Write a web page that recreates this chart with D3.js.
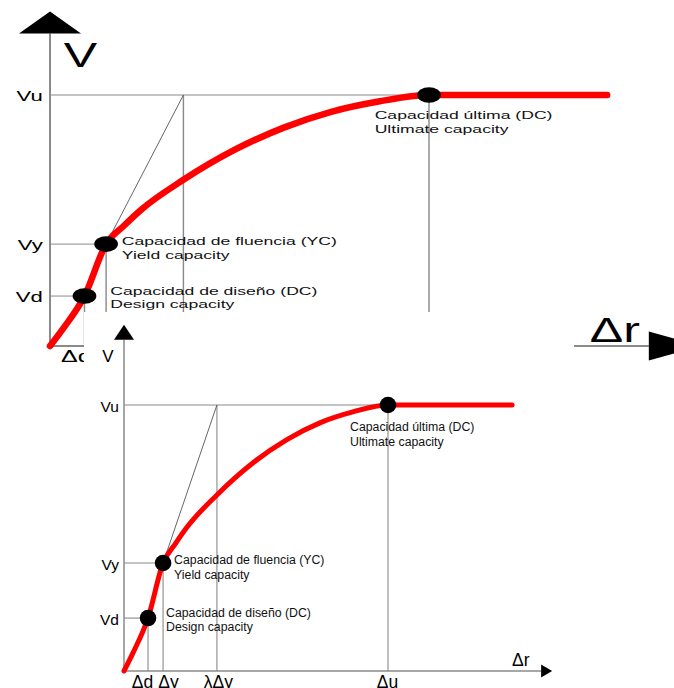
<!DOCTYPE html>
<html>
<head>
<meta charset="utf-8">
<script src="https://cdn.jsdelivr.net/npm/d3@7"></script>
<style>
  html, body { margin: 0; padding: 0; background: #fff; }
  svg { display: block; }
</style>
</head>
<body>
<div id="chart"></div>
<script>
// capacity curve data (units: Δu = 100, Vu = 100)
const deltaLabels = ["Δd", "Δy", "λΔy", "Δu"];
const deltaValues = [9.1, 14.8, 35.2, 100];
const deltaGuideV = [19.9, 40.6, 100, 100];   // height each vertical guide reaches

const vLabels = ["Vd", "Vy", "Vu"];
const vValues = [19.9, 40.6, 100];

const curveDelta = [0, 3.4, 9.1, 14.8, 19.5, 23.9, 35.2, 48.9, 61.7, 74.2, 86.7, 100, 147];
const curveV     = [0, 6.8, 19.9, 40.6, 47.9, 54.1, 66.2, 78.3, 87.0, 93.3, 97.4, 100, 100];

const pointNames   = ["Capacidad de diseño (DC)", "Capacidad de fluencia (YC)", "Capacidad última (DC)"];
const pointNamesEn = ["Design capacity", "Yield capacity", "Ultimate capacity"];
const pointDelta   = [9.1, 14.8, 100];
const pointV       = [19.9, 40.6, 100];

const axisMax = [158, 124.5]; // [Δr, V]

const W = 674, H = 688;
const svg = d3.select("#chart").append("svg")
    .attr("width", W)
    .attr("height", H);
svg.append("rect").attr("width", W).attr("height", H).attr("fill", "#fff");

const FONT = "Arial, 'Liberation Sans', sans-serif";

function drawDiagram(g, cfg) {
    const x = d3.scaleLinear().domain([0, 100]).range(cfg.xRange);
    const y = d3.scaleLinear().domain([0, 100]).range(cfg.yRange);
    const sx = cfg.sx, sy = cfg.sy;
    const grey = "#8a8a8a";
    const x0 = x(0), y0 = y(0);
    const yTop = y(axisMax[1]), xEnd = x(axisMax[0]);
    const sc = `scale(${sx},${sy})`;

    // guides: horizontal to each point
    g.selectAll(".hguide").data(pointV).enter().append("line")
        .attr("x1", x0).attr("x2", (d, i) => x(pointDelta[i]))
        .attr("y1", d => y(d)).attr("y2", d => y(d))
        .attr("stroke", grey).attr("stroke-width", cfg.guideW);

    // guides: vertical from each Δ
    g.selectAll(".vguide").data(deltaValues).enter().append("line")
        .attr("x1", d => x(d)).attr("x2", d => x(d))
        .attr("y1", y0).attr("y2", (d, i) => y(deltaGuideV[i]))
        .attr("stroke", grey).attr("stroke-width", cfg.guideW * sx);

    // secant to λΔy
    g.append("line")
        .attr("x1", x(deltaValues[1])).attr("y1", y(vValues[1]))
        .attr("x2", x(deltaValues[2])).attr("y2", y(vValues[2]))
        .attr("stroke", "#555").attr("stroke-width", 0.9);

    // axes
    g.append("line").attr("x1", x0).attr("x2", x0).attr("y1", y0).attr("y2", yTop)
        .attr("stroke", grey).attr("stroke-width", cfg.axisW);
    g.append("line").attr("x1", x0).attr("x2", xEnd).attr("y1", y0).attr("y2", y0)
        .attr("stroke", grey).attr("stroke-width", cfg.axisW);

    // arrowheads
    const ya = cfg.yArrow, xa = cfg.xArrow;
    g.append("path")
        .attr("d", `M${x0 - ya[0] / 2},${yTop} L${x0 + ya[0] / 2},${yTop} L${x0},${yTop - ya[1]} Z`)
        .attr("fill", "#000");
    g.append("path")
        .attr("d", `M${xEnd},${y0 - xa[0] / 2} L${xEnd},${y0 + xa[0] / 2} L${xEnd + xa[1]},${y0} Z`)
        .attr("fill", "#000");

    // axis names
    g.append("text")
        .attr("transform", `translate(${x0 + cfg.vName[0]},${yTop - ya[1] + cfg.vName[1]}) scale(${sx},1)`)
        .attr("text-anchor", "middle")
        .attr("font-family", FONT).attr("font-size", cfg.vName[2])
        .text("V");
    g.append("text")
        .attr("transform", `translate(${xEnd + cfg.rName[0]},${y0 + cfg.rName[1]}) scale(${sx},1)`)
        .attr("font-family", FONT).attr("font-size", cfg.rName[2])
        .text("Δr");

    // V tick labels
    const yAxis = g.append("g")
        .attr("transform", `translate(${x0},0)`)
        .call(d3.axisLeft(y).tickValues(vValues).tickFormat((d, i) => vLabels[i]).tickSize(0));
    yAxis.select(".domain").remove();
    yAxis.selectAll("text")
        .attr("x", null).attr("dy", null)
        .attr("transform", `translate(${-5 * sx},${6 * sy}) ${sc}`)
        .attr("text-anchor", "end")
        .attr("font-family", FONT).attr("font-size", 15.5).attr("fill", "#000");

    // Δ tick labels (the big copy only shows the first one, clipped)
    const nudge = [-6, 5, 1, -1];
    const xAxis = g.append("g")
        .attr("transform", `translate(0,${y0})`)
        .call(d3.axisBottom(x).tickValues(cfg.allTicks ? deltaValues : deltaValues.slice(0, 1))
            .tickFormat((d, i) => deltaLabels[i]).tickSize(0));
    xAxis.select(".domain").remove();
    xAxis.selectAll("text")
        .attr("y", null).attr("dy", null)
        .attr("transform", (d, i) => `translate(${nudge[i] * sx},${17 * sy}) ${sc}`)
        .attr("text-anchor", "middle")
        .attr("font-family", FONT).attr("font-size", 17.5).attr("fill", "#000");
    if (cfg.clipTick) xAxis.attr("clip-path", `url(#${cfg.clipTick})`);

    // capacity curve
    const line = d3.line()
        .x((d, i) => x(curveDelta[i]))
        .y(d => y(d))
        .curve(d3.curveMonotoneX);
    g.append("path")
        .datum(curveV)
        .attr("d", line)
        .attr("fill", "none")
        .attr("stroke", "#ff0000")
        .attr("stroke-width", cfg.curveW)
        .attr("stroke-linecap", "round");

    // capacity points
    g.selectAll(".pt").data(pointV).enter().append("ellipse")
        .attr("cx", (d, i) => x(pointDelta[i]))
        .attr("cy", d => y(d))
        .attr("rx", 8.3 * sx).attr("ry", 8.3 * sy)
        .attr("fill", "#000");

    // point labels
    const offs = [[18, -1.5], [11, 1], [-38, 26]];
    pointV.forEach((v, i) => {
        const px = x(pointDelta[i]) + offs[i][0] * sx;
        const py = y(v) + offs[i][1] * sy;
        [pointNames[i], pointNamesEn[i]].forEach((t, k) => {
            g.append("text")
                .attr("transform", `translate(${px},${py + k * 14.5 * sy}) ${sc}`)
                .attr("font-family", FONT).attr("font-size", 12.3)
                .attr("fill", "#111")
                .text(t);
        });
    });
}

// clip for the half-hidden Δd of the big copy
svg.append("defs").append("clipPath").attr("id", "bigTickClip")
    .append("rect").attr("x", -1000).attr("y", -1000).attr("width", 1084).attr("height", 2000);

// large stretched copy behind
drawDiagram(svg.append("g"), {
    xRange: [50, 429], yRange: [346, 95], sx: 1.43, sy: 0.94,
    guideW: 1, axisW: 2, curveW: 6.5,
    yArrow: [62, 22], xArrow: [29, 52],
    vName: [30.5, 55, 35], rName: [-59, -4, 35],
    allTicks: false, clipTick: "bigTickClip"
});

// white panel of the smaller copy
svg.append("rect")
    .attr("x", 84).attr("y", 312)
    .attr("width", 490).attr("height", H - 312)
    .attr("fill", "#fff");

// smaller copy in front
drawDiagram(svg.append("g"), {
    xRange: [124, 388], yRange: [671, 405], sx: 1, sy: 1,
    guideW: 1.1, axisW: 1.5, curveW: 5,
    yArrow: [20, 15], xArrow: [13, 11],
    vName: [-16, 37, 17], rName: [-29, -5, 17.5],
    allTicks: true
});
</script>
</body>
</html>
